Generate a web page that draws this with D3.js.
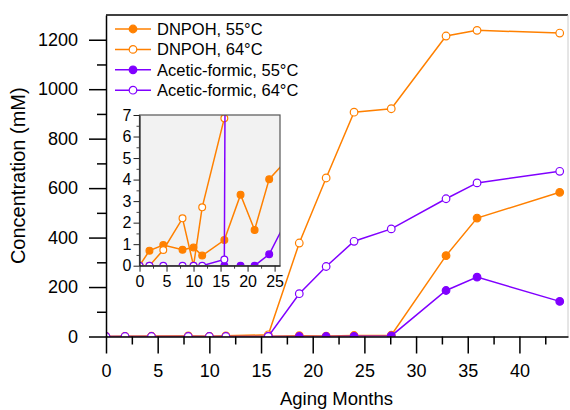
<!DOCTYPE html>
<html>
<head>
<meta charset="utf-8">
<script src="https://cdn.jsdelivr.net/npm/d3@7"></script>
<style>
  body { margin: 0; background: #fff; }
  text { font-family: "Liberation Sans", Arial, sans-serif; fill: #000; }
</style>
</head>
<body>
<div class="canvas"></div>
<script>
// aging months (sampling points)
const months = [0, 1.84, 4.4, 7.96, 10, 11.6, 15.7, 18.7, 21.3, 24.0, 27.6, 32.9, 35.9, 43.9];
// concentrations in mM
const dnpoh55 = [0, 0.70, 0.96, 0.74, 0.85, 0.47, 1.19, 3.30, 1.66, 4.02, 5.0, 327, 479, 583];
const dnpoh64 = [0, 0, 0.73, 2.2, 0, 2.71, 6.85, 378, 641, 907, 921, 1215, 1238, 1227];
const acetic55 = [null, null, null, null, null, null, 0, 0, 0, 0.53, 2.3, 186, 240, 142];
const acetic64 = [0, 0, 0, 0, 0, 0, 0.29, 173, 283, 385, 435, 557, 621, 668];

const seriesNames = ['DNPOH, 55°C', 'DNPOH, 64°C', 'Acetic-formic, 55°C', 'Acetic-formic, 64°C'];
const seriesValues = [dnpoh55, dnpoh64, acetic55, acetic64];
const seriesColors = ['#ff8000', '#ff8000', '#8000ff', '#8000ff'];
const seriesFilled = [true, false, true, false];

const mainXTicks = [0, 5, 10, 15, 20, 25, 30, 35, 40];
const mainYTicks = [0, 200, 400, 600, 800, 1000, 1200];
const insetXTicks = [0, 5, 10, 15, 20, 25];
const insetYTicks = [0, 1, 2, 3, 4, 5, 6, 7];

function drawGraph() {
  const margin = { top: 15, right: 2, bottom: 73.5, left: 106 };
  const width = 570, height = 410;
  const graphWidth = width - margin.left - margin.right;
  const graphHeight = height - margin.top - margin.bottom;

  const svg = d3.select('.canvas')
    .append('svg')
    .attr('width', width)
    .attr('height', height);

  const series = seriesNames.map((name, i) => ({
    name: name,
    color: seriesColors[i],
    filled: seriesFilled[i],
    points: months.map((m, j) => ({ x: m, y: seriesValues[i][j] })).filter(d => d.y !== null)
  }));

  // main chart
  const graph = svg.append('g')
    .attr('transform', `translate(${margin.left}, ${margin.top})`);

  const xScale = d3.scaleLinear().domain([0, 44.7]).range([0, graphWidth]);
  const yScale = d3.scaleLinear().domain([0, 1300]).range([graphHeight, 0]);

  svg.append('clipPath').attr('id', 'mainClip')
    .append('rect').attr('width', graphWidth).attr('height', graphHeight);

  drawSeries(graph, series, xScale, yScale, 'mainClip', 3.8);

  // frame
  graph.append('line').attr('x1', 0).attr('x2', graphWidth).attr('y1', 0).attr('y2', 0)
    .attr('stroke', '#000').attr('stroke-width', 1.5);
  graph.append('line').attr('x1', graphWidth).attr('x2', graphWidth).attr('y1', 0).attr('y2', graphHeight)
    .attr('stroke', '#ccc').attr('stroke-width', 1);

  // minor ticks
  graph.append('g')
    .attr('transform', `translate(0, ${graphHeight})`)
    .call(d3.axisBottom(xScale).tickValues(d3.range(2.5, 44, 5)).tickSize(8).tickFormat(''))
    .call(g => g.select('.domain').remove())
    .call(g => g.selectAll('line').attr('stroke-width', 1.5));
  graph.append('g')
    .call(d3.axisLeft(yScale).tickValues(d3.range(100, 1300, 200)).tickSize(9).tickFormat(''))
    .call(g => g.select('.domain').remove())
    .call(g => g.selectAll('line').attr('stroke-width', 1.5));

  const xAxis = graph.append('g')
    .attr('transform', `translate(0, ${graphHeight})`)
    .call(d3.axisBottom(xScale).tickValues(mainXTicks).tickFormat(d3.format('d'))
      .tickSize(17).tickPadding(11).tickSizeOuter(0));
  xAxis.selectAll('line').attr('stroke-width', 1.5);
  xAxis.select('.domain').attr('stroke-width', 1.5);
  xAxis.selectAll('text').attr('font-size', 18).attr('fill', '#000');

  const yAxis = graph.append('g')
    .call(d3.axisLeft(yScale).tickValues(mainYTicks).tickFormat(d3.format('d'))
      .tickSize(17).tickPadding(11).tickSizeOuter(0));
  yAxis.selectAll('line').attr('stroke-width', 1.5);
  yAxis.select('.domain').attr('stroke-width', 1.5);
  yAxis.selectAll('text').attr('font-size', 18).attr('fill', '#000');

  svg.append('text')
    .attr('x', margin.left + xScale(22.3))
    .attr('y', 405)
    .attr('text-anchor', 'middle')
    .attr('font-size', 18.5)
    .text('Aging Months');

  svg.append('text')
    .attr('transform', `translate(25, ${margin.top + graphHeight / 2}) rotate(-90)`)
    .attr('text-anchor', 'middle')
    .attr('font-size', 20)
    .text('Concentration (mM)');

  // legend
  const legend = svg.append('g').attr('transform', 'translate(115, 29)');
  series.forEach((s, i) => {
    const row = legend.append('g').attr('transform', `translate(0, ${i * 20.4})`);
    row.append('line').attr('x1', 0).attr('x2', 36).attr('y1', 0).attr('y2', 0)
      .attr('stroke', s.color).attr('stroke-width', 1.5);
    row.append('circle').attr('cx', 18).attr('cy', 0).attr('r', 3.8)
      .attr('fill', s.filled ? s.color : '#fff')
      .attr('stroke', s.color).attr('stroke-width', 1.2);
    row.append('text').attr('x', 42).attr('y', 6).attr('font-size', 16.5).text(s.name);
  });

  // inset
  const inset = { left: 139.5, top: 115, width: 140.5, height: 150.7 };
  const insetGraph = svg.append('g')
    .attr('transform', `translate(${inset.left}, ${inset.top})`);
  const ixScale = d3.scaleLinear().domain([0, 26]).range([0, inset.width]);
  const iyScale = d3.scaleLinear().domain([0, 7]).range([inset.height, 0]);

  insetGraph.append('rect')
    .attr('width', inset.width).attr('height', inset.height)
    .attr('fill', '#f2f2f2');

  svg.append('clipPath').attr('id', 'insetClip')
    .append('rect').attr('width', inset.width).attr('height', inset.height);

  drawSeries(insetGraph, series, ixScale, iyScale, 'insetClip', 3.4);

  insetGraph.append('rect')
    .attr('width', inset.width).attr('height', inset.height)
    .attr('fill', 'none').attr('stroke', '#555').attr('stroke-width', 1.2);

  insetGraph.append('g')
    .attr('transform', `translate(0, ${inset.height})`)
    .call(d3.axisBottom(ixScale).tickValues(d3.range(2.5, 26, 5)).tickSize(3).tickFormat(''))
    .call(g => g.select('.domain').remove())
    .call(g => g.selectAll('line').attr('stroke', '#444'));
  insetGraph.append('g')
    .call(d3.axisLeft(iyScale).tickValues(d3.range(0.5, 7, 1)).tickSize(3).tickFormat(''))
    .call(g => g.select('.domain').remove())
    .call(g => g.selectAll('line').attr('stroke', '#444'));

  const ixAxis = insetGraph.append('g')
    .attr('transform', `translate(0, ${inset.height})`)
    .call(d3.axisBottom(ixScale).tickValues(insetXTicks).tickFormat(d3.format('d'))
      .tickSize(6).tickPadding(4).tickSizeOuter(0));
  ixAxis.select('.domain').attr('stroke', '#222').attr('stroke-width', 1.2);
  ixAxis.selectAll('line').attr('stroke', '#222');
  ixAxis.selectAll('text').attr('font-size', 16).attr('fill', '#000');

  const iyAxis = insetGraph.append('g')
    .call(d3.axisLeft(iyScale).tickValues(insetYTicks).tickFormat(d3.format('d'))
      .tickSize(6).tickPadding(2).tickSizeOuter(0));
  iyAxis.select('.domain').attr('stroke', '#222').attr('stroke-width', 1.2);
  iyAxis.selectAll('line').attr('stroke', '#222');
  iyAxis.selectAll('text').attr('font-size', 16).attr('fill', '#000');
}

function drawSeries(graph, series, xScale, yScale, clipId, r) {
  const plot = graph.append('g').attr('clip-path', `url(#${clipId})`);
  const line = d3.line().x(d => xScale(d.x)).y(d => yScale(d.y));
  series.forEach(s => {
    plot.append('path')
      .datum(s.points)
      .attr('d', line)
      .attr('fill', 'none')
      .attr('stroke', s.color)
      .attr('stroke-width', 1.5);
    plot.selectAll(null)
      .data(s.points)
      .enter()
      .append('circle')
      .attr('cx', d => xScale(d.x))
      .attr('cy', d => yScale(d.y))
      .attr('r', r)
      .attr('fill', s.filled ? s.color : '#fff')
      .attr('stroke', s.color)
      .attr('stroke-width', 1.2);
  });
}

drawGraph();
</script>
</body>
</html>
